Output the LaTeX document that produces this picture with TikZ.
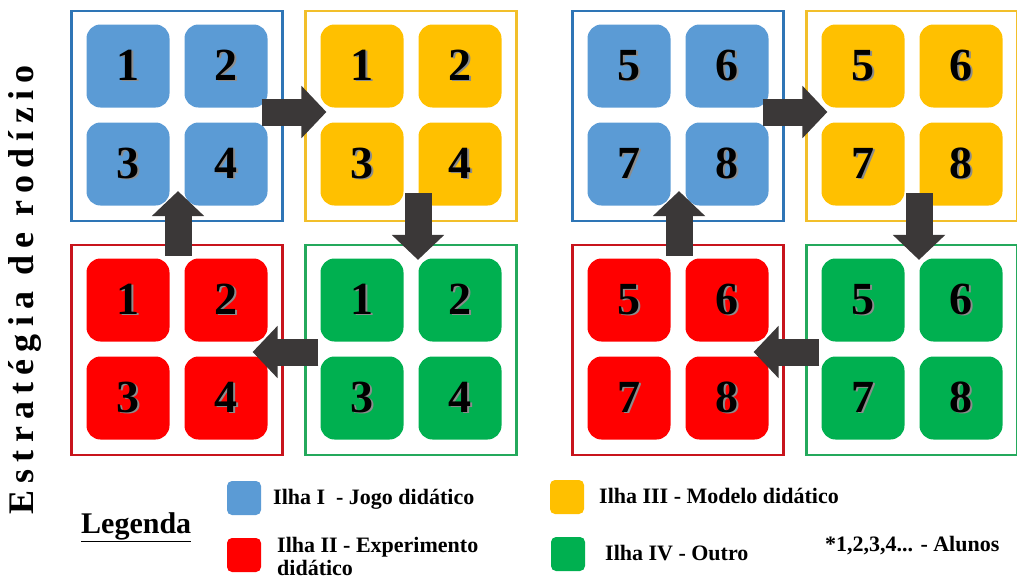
\documentclass[tikz,border=0pt]{standalone}
\usepackage{fontspec}
\setmainfont{Liberation Serif}
\usetikzlibrary{arrows.meta}

\definecolor{azul}{HTML}{5B9BD5}
\definecolor{bordaazul}{HTML}{2E75B6}
\definecolor{amarelo}{HTML}{FFC000}
\definecolor{bordaamarelo}{HTML}{F2BF2A}
\definecolor{vermelho}{HTML}{FF0000}
\definecolor{bordavermelho}{HTML}{C8141C}
\definecolor{verde}{HTML}{00B050}
\definecolor{bordaverde}{HTML}{24A95C}
\definecolor{setacor}{HTML}{3B3838}

% number with a soft shadow
\newcommand{\sombra}[1]{\rlap{\kern1.5pt\raisebox{-1.5pt}{\textcolor{black!45}{#1}}}#1}

\begin{document}
\begin{tikzpicture}[x=1pt, y=-1pt,
    ilha/.style={draw, line width=2.2pt, minimum width=211pt, minimum height=210pt, inner sep=0pt},
    bloco/.style={rounded corners=14pt, minimum size=83pt, inner sep=0pt,
        font=\fontsize{46}{46}\selectfont\bfseries},
    seta/.style={draw=setacor, line width=27pt, -{Triangle[length=25pt, width=51pt]}},
    legcor/.style={rounded corners=5pt, minimum size=34pt, inner sep=0pt},
    legtexto/.style={inner sep=0pt, font=\fontsize{22}{23}\selectfont\bfseries}]

        \useasboundingbox (0,0) rectangle (1017,581);

        % Define parameters
        \def\desloc{501}   % Horizontal shift of the second group
        \def\passo{49}     % Tile offset from the island centre

        % Draw the two groups of four islands
        \foreach \g/\dx/\base in {A/0/0, B/\desloc/4} {
            \foreach \nome/\cx/\cy in {azul/177/116, amarelo/411/116, vermelho/177/350, verde/411/350} {
                \node[ilha, draw=borda\nome] (\nome\g) at (\cx+\dx,\cy) {};

                % Four students per island
                \foreach \k/\ox/\oy in {1/-\passo/-50, 2/\passo/-50, 3/-\passo/48, 4/\passo/48} {
                    \pgfmathtruncatemacro{\num}{\base+\k}
                    \node[bloco, fill=\nome] (\nome\g-\k) at (\cx+\dx+\ox,\cy+\oy) {\sombra{\num}};
                }
            }

            % Draw the rotation arrows
            \draw[seta] ([xshift=-22pt,yshift=4pt]azul\g.east) -- ([xshift=22pt,yshift=4pt]amarelo\g.west);
            \draw[seta] ([xshift=7pt,yshift=29pt]amarelo\g.south) -- ([xshift=7pt,yshift=-16pt]verde\g.north);
            \draw[seta] ([xshift=14pt,yshift=-2pt]verde\g.west) -- ([xshift=-31pt,yshift=-2pt]vermelho\g.east);
            \draw[seta] ([xshift=1pt,yshift=-12pt]vermelho\g.north) -- ([xshift=1pt,yshift=31pt]azul\g.south);
        }

        % Side title
        \node[rotate=90, inner sep=0pt, font=\fontsize{36}{36}\selectfont\bfseries] (titulo) at (25,290)
            {\addfontfeature{LetterSpace=20}Estratégia de rodízio};

        % Legend
        \node[legtexto, anchor=base west, font=\fontsize{30}{30}\selectfont\bfseries] (legenda) at (81,533) {\underline{Legenda}};
        \node[legcor, fill=azul] (corI) at (244,498) {};
        \node[legcor, fill=vermelho] (corII) at (244,555) {};
        \node[legcor, fill=amarelo] (corIII) at (567,497) {};
        \node[legcor, fill=verde] (corIV) at (568,554) {};
        \node[legtexto, anchor=base west] (textoI) at (273,504) {Ilha I~ - Jogo didático};
        \node[legtexto, anchor=north west, align=left] (textoII) at (277,537) {Ilha II - Experimento\\didático};
        \node[legtexto, anchor=base west] (textoIII) at (599,503) {Ilha III - Modelo didático};
        \node[legtexto, anchor=base west] (textoIV) at (605,560) {Ilha IV - Outro};
        \node[legtexto, anchor=base west] (alunos) at (825,551) {*1,2,3,4... - Alunos};

    \end{tikzpicture}
\end{document}
